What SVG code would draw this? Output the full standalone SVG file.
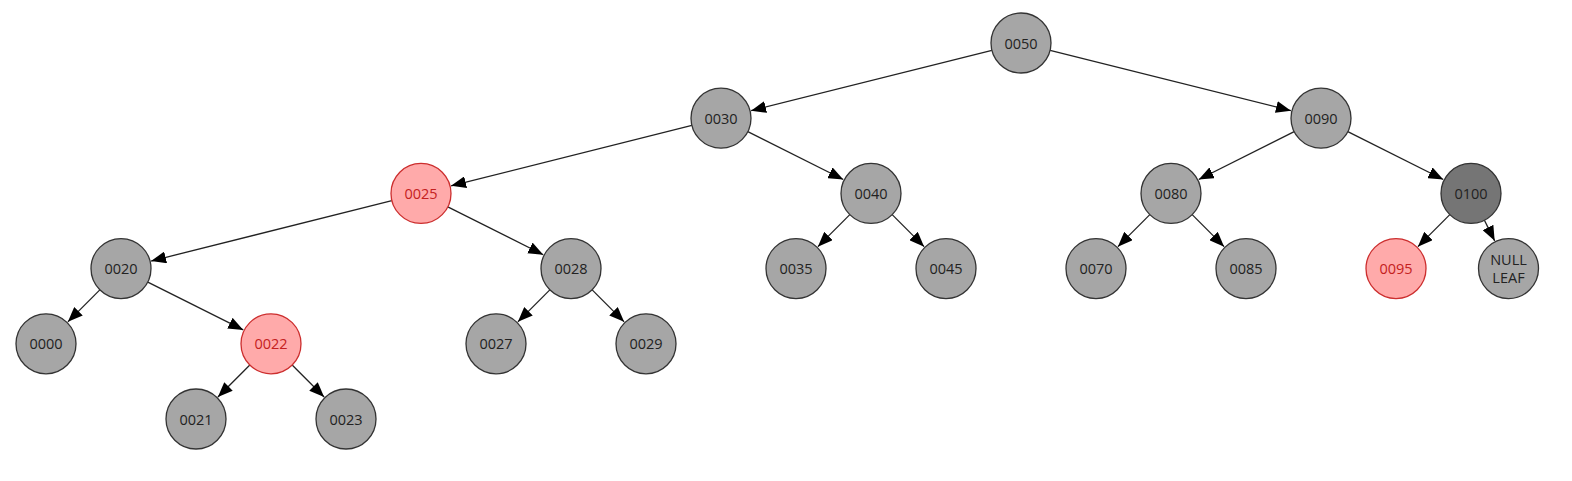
<svg xmlns="http://www.w3.org/2000/svg" width="1572" height="481" viewBox="0 0 1572 481">
<defs>
<marker id="arr" markerUnits="userSpaceOnUse" markerWidth="15" markerHeight="12" refX="15" refY="6" orient="auto">
<path d="M0,0 L15,6 L0,12 z" fill="#000"/>
</marker>
<style>
.n circle{fill:#a6a6a6;stroke:#333;stroke-width:1.3}
.r circle{fill:#ffaaaa;stroke:#cc2e2e;stroke-width:1.3}
.d circle{fill:#757575;stroke:#333;stroke-width:1.3}
text{font-family:"Open Sans","Noto Sans",sans-serif;font-size:14.5px;fill:#222;text-anchor:middle;dominant-baseline:central}
.r text{fill:#c42020}
#edges line{stroke:#222;stroke-width:1.3;marker-end:url(#arr)}
</style>
</defs>
<rect width="1572" height="481" fill="#fff"/>
<g id="edges">
<line x1="991.9" y1="50.29" x2="751.07" y2="110.66"/>
<line x1="1050.1" y1="50.29" x2="1290.93" y2="110.66"/>
<line x1="691.9" y1="125.49" x2="451.07" y2="185.86"/>
<line x1="747.82" y1="131.65" x2="843.29" y2="179.51"/>
<line x1="1294.18" y1="131.65" x2="1198.71" y2="179.51"/>
<line x1="1347.82" y1="131.65" x2="1443.29" y2="179.51"/>
<line x1="391.9" y1="200.69" x2="151.07" y2="261.06"/>
<line x1="447.82" y1="206.85" x2="543.29" y2="254.71"/>
<line x1="849.81" y1="214.64" x2="817.89" y2="246.65"/>
<line x1="892.19" y1="214.64" x2="924.11" y2="246.65"/>
<line x1="1149.81" y1="214.64" x2="1117.89" y2="246.65"/>
<line x1="1192.19" y1="214.64" x2="1224.11" y2="246.65"/>
<line x1="1449.81" y1="214.64" x2="1417.89" y2="246.65"/>
<line x1="1484.39" y1="220.25" x2="1494.67" y2="240.86"/>
<line x1="99.81" y1="289.84" x2="67.89" y2="321.85"/>
<line x1="147.82" y1="282.05" x2="243.29" y2="329.91"/>
<line x1="249.81" y1="365.04" x2="217.89" y2="397.05"/>
<line x1="292.19" y1="365.04" x2="324.11" y2="397.05"/>
<line x1="549.81" y1="289.84" x2="517.89" y2="321.85"/>
<line x1="592.19" y1="289.84" x2="624.11" y2="321.85"/>
</g>
<g id="n0050" class="n"><circle cx="1021" cy="43" r="30"/><text x="1021" y="43">0050</text></g>
<g id="n0030" class="n"><circle cx="721" cy="118.2" r="30"/><text x="721" y="118.2">0030</text></g>
<g id="n0090" class="n"><circle cx="1321" cy="118.2" r="30"/><text x="1321" y="118.2">0090</text></g>
<g id="n0025" class="r"><circle cx="421" cy="193.4" r="30"/><text x="421" y="193.4">0025</text></g>
<g id="n0040" class="n"><circle cx="871" cy="193.4" r="30"/><text x="871" y="193.4">0040</text></g>
<g id="n0080" class="n"><circle cx="1171" cy="193.4" r="30"/><text x="1171" y="193.4">0080</text></g>
<g id="n0100" class="d"><circle cx="1471" cy="193.4" r="30"/><text x="1471" y="193.4">0100</text></g>
<g id="n0020" class="n"><circle cx="121" cy="268.6" r="30"/><text x="121" y="268.6">0020</text></g>
<g id="n0028" class="n"><circle cx="571" cy="268.6" r="30"/><text x="571" y="268.6">0028</text></g>
<g id="n0035" class="n"><circle cx="796" cy="268.6" r="30"/><text x="796" y="268.6">0035</text></g>
<g id="n0045" class="n"><circle cx="946" cy="268.6" r="30"/><text x="946" y="268.6">0045</text></g>
<g id="n0070" class="n"><circle cx="1096" cy="268.6" r="30"/><text x="1096" y="268.6">0070</text></g>
<g id="n0085" class="n"><circle cx="1246" cy="268.6" r="30"/><text x="1246" y="268.6">0085</text></g>
<g id="n0095" class="r"><circle cx="1396" cy="268.6" r="30"/><text x="1396" y="268.6">0095</text></g>
<g id="nnull" class="n"><circle cx="1508.5" cy="268.6" r="30"/><text x="1508.5" y="259.5">NULL</text><text x="1508.5" y="277">LEAF</text></g>
<g id="n0000" class="n"><circle cx="46" cy="343.8" r="30"/><text x="46" y="343.8">0000</text></g>
<g id="n0022" class="r"><circle cx="271" cy="343.8" r="30"/><text x="271" y="343.8">0022</text></g>
<g id="n0027" class="n"><circle cx="496" cy="343.8" r="30"/><text x="496" y="343.8">0027</text></g>
<g id="n0029" class="n"><circle cx="646" cy="343.8" r="30"/><text x="646" y="343.8">0029</text></g>
<g id="n0021" class="n"><circle cx="196" cy="419" r="30"/><text x="196" y="419">0021</text></g>
<g id="n0023" class="n"><circle cx="346" cy="419" r="30"/><text x="346" y="419">0023</text></g>
</svg>
